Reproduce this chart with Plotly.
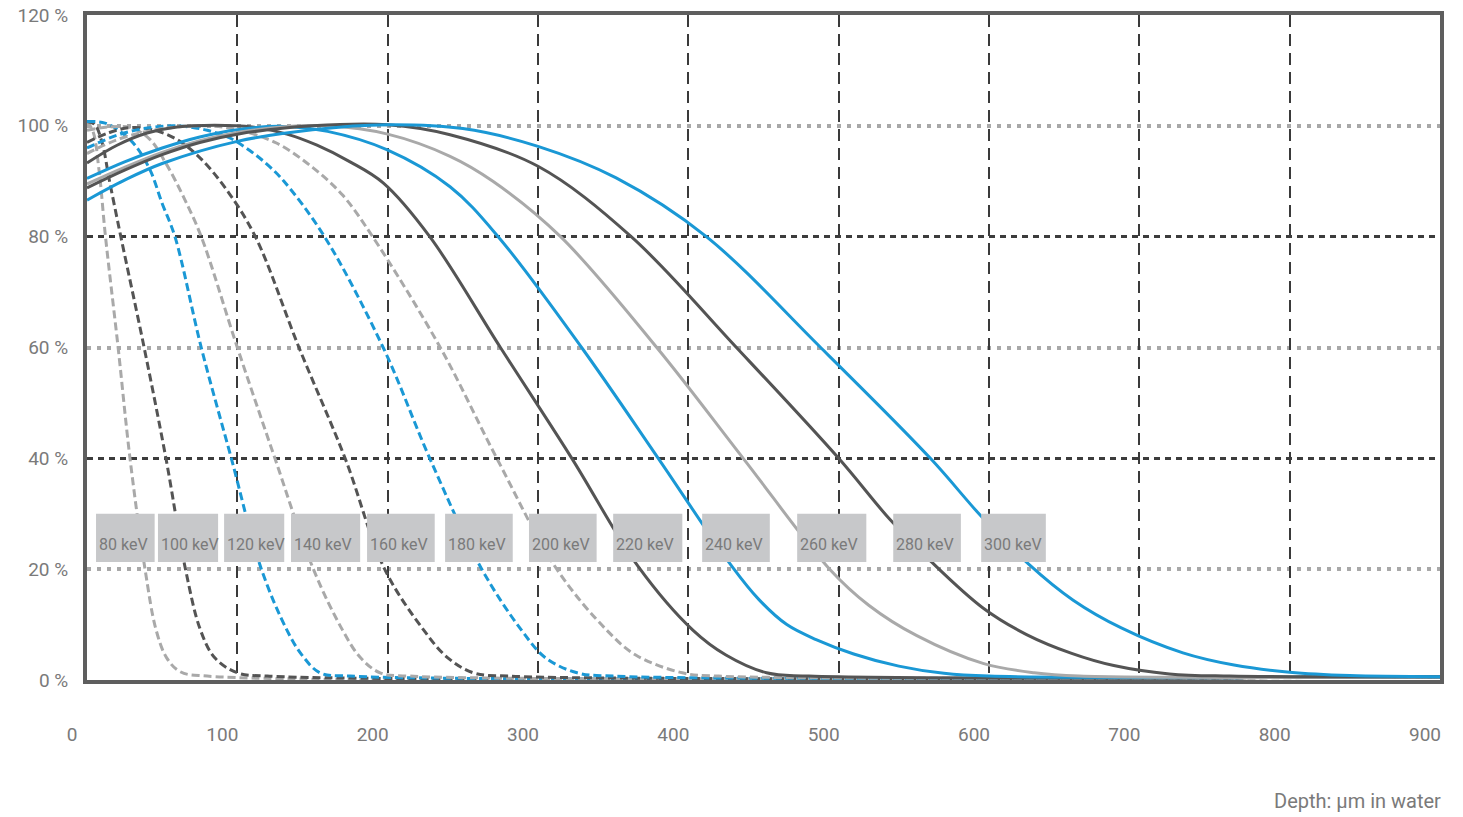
import plotly.graph_objects as go

# ---------------- data ----------------
energies = ["80 keV", "100 keV", "120 keV", "140 keV", "160 keV", "180 keV",
            "200 keV", "220 keV", "240 keV", "260 keV", "280 keV", "300 keV"]

depth_80 = [0, 4, 8, 12.3, 20.7, 28.6, 38.6, 46, 53, 62, 80, 900]
dose_80 = [100.8, 99, 92, 80, 60, 40, 20, 9, 4, 1.5, 0.7, 0.6]

depth_100 = [0, 5, 10, 15, 22.5, 38, 52.5, 65.5, 75.5, 85, 100, 120, 900]
dose_100 = [100.8, 100.3, 97, 90, 80, 60, 40, 20, 9, 4, 1.3, 0.7, 0.6]

depth_120 = [0, 12, 22, 32, 42, 50, 58.5, 76, 96, 116, 133, 143, 155, 175, 900]
dose_120 = [100.8, 100.5, 99, 96.5, 92, 86, 80, 60, 40, 20, 9, 4.5, 1.3, 0.7, 0.6]

depth_140 = [0, 15, 30, 42, 53, 64.5, 76, 100, 125, 150.6, 170, 182, 195, 215, 900]
dose_140 = [99.2, 99.8, 99.6, 97.5, 93, 87, 80, 60, 40, 20, 9, 4, 1.3, 0.7, 0.6]

depth_160 = [0, 15, 30, 45, 60, 76, 93, 112, 141, 171.7, 198, 224, 240, 257, 280, 900]
dose_160 = [97, 98.8, 99.7, 99.2, 97.5, 94, 88.4, 80, 60, 40, 20, 9, 4, 1.3, 0.7, 0.6]

depth_180 = [0, 20, 40, 60, 80, 95, 108.5, 120, 131, 158, 197, 228, 262.6, 289, 305, 326, 350, 900]
dose_180 = [96, 98.3, 99.6, 100, 99.2, 97.8, 95.5, 93, 90, 80, 60, 40, 20, 9, 4, 1.3, 0.7, 0.6]

depth_200 = [0, 20, 40, 60, 80, 100, 126, 150, 170, 190, 235, 272.6, 312.5, 345.7, 365, 396, 420, 900]
dose_200 = [95, 97.5, 99, 99.8, 100, 99.3, 96.9, 92.5, 87.5, 80, 60, 40, 20, 9, 4.5, 1.3, 0.7, 0.6]

depth_220 = [0, 20, 40, 60, 85, 110, 133, 153, 175, 197, 228, 275, 322.5, 366.6, 403, 425, 452, 480, 900]
dose_220 = [93.3, 96.5, 98.7, 99.8, 100.1, 99.8, 98.5, 96.5, 93.5, 89.7, 80, 60, 40, 20.5, 9, 4.5, 1.3, 0.7, 0.6]

depth_240 = [0, 25, 50, 75, 100, 130, 160, 199.4, 241.5, 273.5, 329, 380, 429, 447, 465.5, 485, 510, 540, 570, 600, 900]
dose_240 = [90.5, 93.5, 96, 98, 99.3, 99.9, 99, 95.7, 89, 80, 60, 40, 20.5, 14.5, 10, 7.3, 4.7, 2.5, 1.2, 0.7, 0.6]

depth_260 = [0, 25, 50, 75, 100, 130, 160, 200, 241.5, 270, 315, 379, 436.5, 494, 520, 552, 596, 630, 660, 900]
dose_260 = [89.5, 92.5, 95.2, 97.3, 98.8, 99.8, 100, 98.5, 94.5, 90, 80, 60, 40, 20, 13.5, 8, 3, 1.3, 0.7, 0.6]

depth_280 = [0, 25, 50, 75, 100, 150, 200, 241.5, 300, 362, 432, 500, 534, 561, 596, 625, 655, 683, 720, 760, 900]
dose_280 = [88.8, 92, 94.8, 97, 98.5, 100, 100.2, 98.4, 92.7, 80, 60, 40, 29, 21.5, 13, 8.2, 4.8, 2.6, 1.1, 0.7, 0.6]

depth_300 = [0, 25, 50, 100, 150, 200, 250, 300, 352, 412, 488, 561, 595, 626, 656, 688, 729, 763, 800, 840, 900]
dose_300 = [86.6, 90.2, 93.2, 97.2, 99.3, 100.2, 99.5, 96.3, 90.6, 80, 60, 40, 29.5, 21, 14.4, 9.4, 4.9, 2.7, 1.4, 0.8, 0.6]

depths = [depth_80, depth_100, depth_120, depth_140, depth_160, depth_180,
          depth_200, depth_220, depth_240, depth_260, depth_280, depth_300]
doses = [dose_80, dose_100, dose_120, dose_140, dose_160, dose_180,
         dose_200, dose_220, dose_240, dose_260, dose_280, dose_300]

x_ticks = [0, 100, 200, 300, 400, 500, 600, 700, 800, 900]
y_ticks = [0, 20, 40, 60, 80, 100, 120]

# ---------------- styles / layout ----------------
BLUE = "#1a98d5"
DARK = "#545454"
LIGHT = "#a9a9a9"
color_cycle = [LIGHT, DARK, BLUE]
TXT = "#7a7a7a"
FONT = "Roboto, Liberation Sans, sans-serif"

# label box positions (left edge, width in µm; vertical band in %)
label_left = [6, 47.2, 91.2, 135.7, 186.3, 238.2, 294, 350, 409.2, 472.4, 536.3, 594.8]
label_width = [39, 40, 40, 46, 45, 45, 45, 46, 45, 46, 45, 43]
LABEL_Y0, LABEL_Y1 = 21.3, 30.0

fig = go.Figure()
# empty trace so that the secondary y axis (dark 40 % / 80 % grid) is drawn
fig.add_trace(go.Scatter(x=[None], y=[None], yaxis="y2", mode="lines",
                         showlegend=False, hoverinfo="skip"))
for i, name in enumerate(energies):
    dashed = i < 7
    fig.add_trace(go.Scatter(
        x=depths[i], y=doses[i], mode="lines", name=name,
        line=dict(color=color_cycle[i % 3], width=3,
                  dash="8px,4px" if dashed else "solid",
                  shape="spline", smoothing=1.0),
        showlegend=False, hoverinfo="skip"))

shapes = []
annotations = []
for i, name in enumerate(energies):
    x0 = label_left[i]
    shapes.append(dict(type="rect", xref="x", yref="y", layer="above",
                       x0=x0, x1=x0 + label_width[i], y0=LABEL_Y0, y1=LABEL_Y1,
                       fillcolor="#c7c8ca", line=dict(width=0)))
    annotations.append(dict(x=x0 + 0.6, y=24.4, xref="x", yref="y", text=name,
                            showarrow=False, xanchor="left", yanchor="middle",
                            font=dict(family=FONT, size=16, color=TXT)))

annotations.append(dict(x=1.002, y=-0.182, xref="paper", yref="paper",
                        text="Depth: µm in water", showarrow=False,
                        xanchor="right", yanchor="middle",
                        font=dict(family=FONT, size=20, color=TXT)))

fig.update_layout(
    width=1463, height=817,
    margin=dict(l=87, r=23, t=15, b=137, autoexpand=False),
    paper_bgcolor="white", plot_bgcolor="white",
    shapes=shapes, annotations=annotations,
    xaxis=dict(range=[0, 900], tickvals=x_ticks, ticks="", automargin=False,
               showgrid=True, gridcolor="#3a3a3a", gridwidth=2, griddash="12px,7px",
               showline=True, linecolor="#5e5e5e", linewidth=4, mirror=True,
               zeroline=False, ticklabelshift=-15, ticklabelstandoff=34,
               tickfont=dict(family=FONT, size=19, color=TXT)),
    yaxis=dict(range=[0, 120], tickvals=y_ticks, ticktext=[f"{v} %" for v in y_ticks],
               ticks="", automargin=False,
               showgrid=False, zeroline=False,
               showline=True, linecolor="#5e5e5e", linewidth=4, mirror=True,
               ticklabelstandoff=11,
               tickfont=dict(family=FONT, size=19, color=TXT),
               minor=dict(tickvals=[20, 60, 100], showgrid=True, gridcolor="#a8a8a8",
                          gridwidth=4, griddash="4px,6px", ticks="")),
    yaxis2=dict(range=[0, 120], overlaying="y", side="left", tickvals=[40, 80],
                showticklabels=False, ticks="", showgrid=True, gridcolor="#3c3c3c",
                gridwidth=3, griddash="6px,5px", zeroline=False, showline=False,
                automargin=False),
)

fig.write_html("out.html", config={"displayModeBar": False},
               post_script="document.body.style.margin='0';document.body.style.padding='0';")
